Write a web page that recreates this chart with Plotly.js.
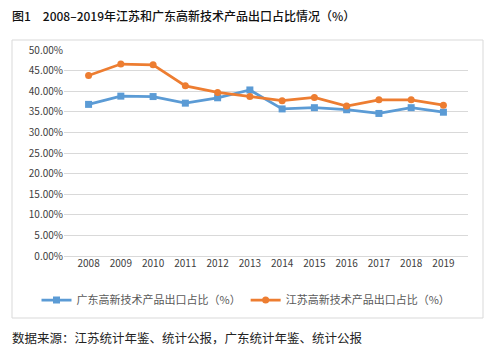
<!DOCTYPE html>
<html><head><meta charset="utf-8">
<script src="https://cdn.plot.ly/plotly-3.0.1.min.js"></script>
<style>html,body{margin:0;padding:0;background:#fff}#c{width:496px;height:359px}</style>
</head><body><div id="c"></div>
<script>
const years = ['2008','2009','2010','2011','2012','2013','2014','2015','2016','2017','2018','2019'];
const guangdong = [36.8,38.8,38.7,37.1,38.4,40.3,35.7,36.0,35.5,34.6,36.0,34.9];
const jiangsu = [43.8,46.6,46.4,41.3,39.7,38.7,37.7,38.5,36.4,37.9,37.9,36.6];
const nameGD = '广东高新技术产品出口占比（%）';
const nameJS = '江苏高新技术产品出口占比（%）';
const titleText = '图1　2008–2019年江苏和广东高新技术产品出口占比情况（%）';
const sourceText = '数据来源：江苏统计年鉴、统计公报，广东统计年鉴、统计公报';

const W=496,H=359,ml=4,mr=4,mt=50,mb=103;
const pw=W-ml-mr, ph=H-mt-mb;
const px=x=>(x-ml)/pw, py=y=>(H-mb-y)/ph;

const traces=[
 {x:years,y:guangdong,name:nameGD,type:'scatter',mode:'lines+markers',
  line:{color:'#5b9bd5',width:2.75},marker:{symbol:'square',size:7,color:'#5b9bd5'}},
 {x:years,y:jiangsu,name:nameJS,type:'scatter',mode:'lines+markers',
  line:{color:'#ed7d31',width:2.75},marker:{symbol:'circle',size:7,color:'#ed7d31'}}
];
const font="Noto Sans CJK SC, Noto Sans, sans-serif";
const layout={
 width:W,height:H,margin:{l:ml,r:mr,t:mt,b:mb},
 paper_bgcolor:'#fff',plot_bgcolor:'#fff',
 font:{family:font,size:10,color:'#595959'},
 showlegend:true,
 legend:{orientation:'h',x:px(246),xanchor:'center',y:py(300),yanchor:'middle',
  font:{size:11,color:'#595959'},tracegroupgap:0},
 xaxis:{type:'category',domain:[px(64),px(468)],showgrid:false,showline:false,zeroline:false,ticks:'',
  tickfont:{size:10,color:'#404040'}},
 yaxis:{range:[0,50],dtick:5,tick0:0,tickformat:'.2f',ticksuffix:'%',
  showgrid:true,gridcolor:'#d9d9d9',gridwidth:1,zeroline:true,zerolinecolor:'#d9d9d9',
  showline:false,ticks:'',tickfont:{size:10,color:'#404040'}},
 shapes:[{type:'rect',xref:'paper',yref:'paper',x0:px(12),x1:px(483),y0:py(318),y1:py(40),
  line:{color:'#d9d9d9',width:1},fillcolor:'rgba(0,0,0,0)',layer:'below'}],
 annotations:[
  {text:titleText,xref:'paper',yref:'paper',x:px(10),y:py(15),xanchor:'left',yanchor:'middle',
   showarrow:false,font:{size:12,color:'#111',family:font,weight:500}},
  {text:sourceText,xref:'paper',yref:'paper',x:px(10),y:py(337),xanchor:'left',yanchor:'middle',
   showarrow:false,font:{size:12.5,color:'#222',family:font}}
 ]
};
Plotly.newPlot('c',traces,layout,{displayModeBar:false,staticPlot:true});
</script></body></html>
